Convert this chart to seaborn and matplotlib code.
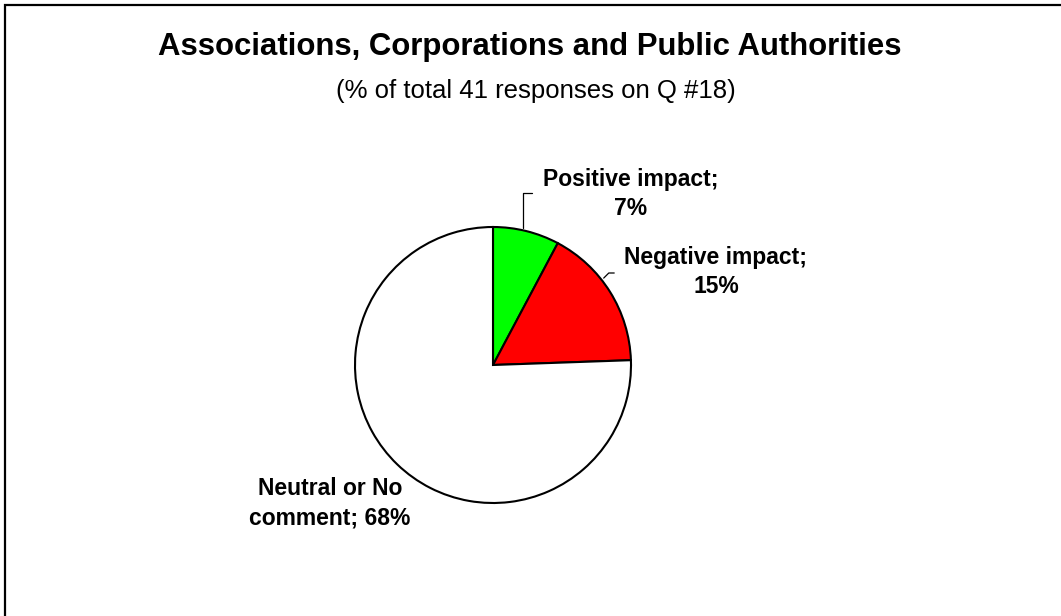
import numpy as np
import matplotlib
matplotlib.use("Agg")
import matplotlib.pyplot as plt
import seaborn as sns
from matplotlib.patches import Rectangle

# Survey shares (percent of 41 responses)
categories = ["Positive impact", "Negative impact", "Neutral or No comment"]
shares = [7, 15, 68]
slice_colors = ["#00FF00", "#FF0000", "#FFFFFF"]
label_texts = ["Positive impact;\n7%", "Negative impact;\n15%", "Neutral or No\ncomment; 68%"]

sns.set_theme(style="white")
plt.rcParams["font.family"] = ["Liberation Sans", "DejaVu Sans"]
plt.rcParams["text.color"] = "black"

W, H = 1061, 616
fig = plt.figure(figsize=(W / 100, H / 100), dpi=100)
fig.patch.set_facecolor("white")

# outer chart frame (runs past the right and bottom edges)
fig.patches.append(Rectangle((5 / W, -0.5), 2.0, (H - 5) / H + 0.5, transform=fig.transFigure,
                             fill=False, edgecolor="black", linewidth=1.6))

fig.text(530 / W, 1 - 47 / H, "Associations, Corporations and Public Authorities",
         ha="center", va="center", fontsize=22.4, fontweight="bold", color="black")
fig.text(536 / W, 1 - 91 / H, "(% of total 41 responses on Q #18)",
         ha="center", va="center", fontsize=18.5, color="black")

# pie axes: centre (493, 365) px, radius 138 px
cx, cy, r, pad = 493, 365, 138, 150
ax = fig.add_axes([(cx - pad) / W, (H - cy - pad) / H, 2 * pad / W, 2 * pad / H])
wedges, _ = ax.pie(shares, colors=slice_colors, startangle=90, counterclock=False,
                   wedgeprops=dict(edgecolor="black", linewidth=1.5))
lim = pad / r
ax.set_xlim(-lim, lim)
ax.set_ylim(-lim, lim)
ax.set_aspect("equal")
ax.axis("off")

label_pos = [(631, 194), (716, 272), (330, 503)]
for txt, (px, py) in zip(label_texts, label_pos):
    fig.text(px / W, 1 - py / H, txt, ha="center", va="center", fontsize=16.5,
             fontweight="bold", linespacing=1.35, color="black")

def edge_point(w, frac):
    a = np.deg2rad(w.theta1 + (w.theta2 - w.theta1) * frac)
    return (np.cos(a), np.sin(a))

# leader lines
ax.annotate("", xy=edge_point(wedges[0], 0.55), xycoords="data",
            xytext=(535, H - 193), textcoords="figure pixels",
            arrowprops=dict(arrowstyle="-", color="black", lw=0.9,
                            connectionstyle="angle,angleA=0,angleB=90,rad=0"))
ax.annotate("", xy=edge_point(wedges[1], 0.6), xycoords="data",
            xytext=(617, H - 273), textcoords="figure pixels",
            arrowprops=dict(arrowstyle="-", color="black", lw=0.9,
                            connectionstyle="angle,angleA=0,angleB=45,rad=0"))

fig.savefig("out.png", dpi=100, facecolor="white")
